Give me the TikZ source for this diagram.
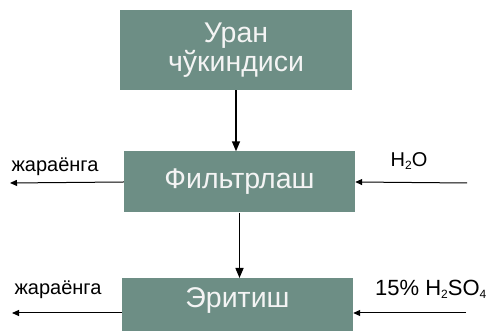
\documentclass[tikz,border=0pt]{standalone}
\usepackage{fontspec}
\setmainfont{Liberation Sans}
\usetikzlibrary{arrows.meta,positioning}
\definecolor{boxgreen}{HTML}{6D8E85}
\definecolor{boxtext}{HTML}{F4F4F4}
\newcommand{\chemsub}[1]{\raisebox{-3pt}{\fontsize{12}{12}\selectfont #1}}
\tikzset{
  stage/.style={fill=boxgreen, text=boxtext, font=\fontsize{28.5}{32}\selectfont,
    minimum width=231pt, align=center, inner sep=0pt},
  flow/.style={-{Triangle[length=10pt,width=8pt]}, line width=1.5pt},
  side/.style={-{Triangle[length=7pt,width=6pt]}, line width=1pt},
  note/.style={font=\fontsize{20}{24}\selectfont, inner sep=0pt}
}
\begin{document}
\begin{tikzpicture}[x=1pt,y=1pt]
\useasboundingbox (0,0) rectangle (495,331);
% process stages
\node[stage, minimum width=232pt, minimum height=80pt] (precip) at (236,281) {Уран\\[-3pt]чўкиндиси};
\node[stage, minimum height=61pt] (filter) at (239.5,149) {Фильтрлаш};
\node[stage, anchor=north, text height=29pt, text depth=30pt] (dissolve) at (237.5,53) {Эритиш};
% main flow
\draw[flow] (precip.south) -- (precip.south |- filter.north);
\draw[flow] (filter.south) -- (filter.south |- dissolve.north);
% outputs to the left
\coordinate (out1) at (10,148);
\coordinate (out2) at (12,18);
\draw[side] (filter.west) -- (out1);
\draw[side] (dissolve.west |- out2) -- (out2);
\node[note] (waste1) at (55,164) {жараёнга};
\node[note] (waste2) at (58,41) {жараёнга};
% inputs from the right
\coordinate (in1) at (467,148);
\coordinate (in2) at (466,18);
\draw[side] (in1) -- (filter.east);
\draw[side] (in2) -- (dissolve.east |- in2);
\node[note] (water) at (409,170) {H\chemsub{2}O};
\node[note, anchor=west, font=\fontsize{22}{26}\selectfont] (acid) at (375,42) {15\% H\chemsub{2}SO\chemsub{4}};
\end{tikzpicture}
\end{document}
